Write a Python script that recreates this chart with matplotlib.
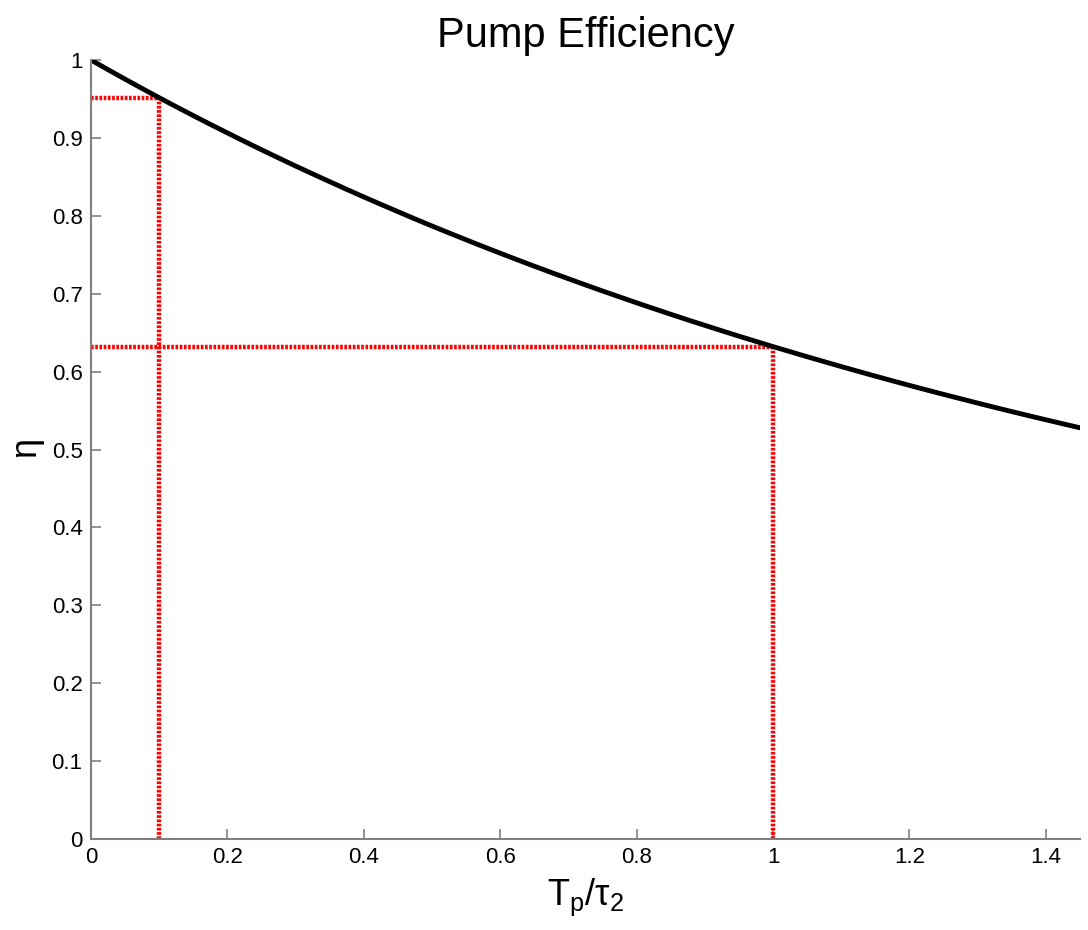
import matplotlib
matplotlib.use('Agg')
import matplotlib.pyplot as plt

# 曲線データ
ratio = [0.0, 0.025, 0.05, 0.075, 0.1, 0.125, 0.15, 0.175, 0.2, 0.225,
         0.25, 0.275, 0.3, 0.325, 0.35, 0.375, 0.4, 0.425, 0.45, 0.475,
         0.5, 0.525, 0.55, 0.575, 0.6, 0.625, 0.65, 0.675, 0.7, 0.725,
         0.75, 0.775, 0.8, 0.825, 0.85, 0.875, 0.9, 0.925, 0.95, 0.975,
         1.0, 1.025, 1.05, 1.075, 1.1, 1.125, 1.15, 1.175, 1.2, 1.225,
         1.25, 1.275, 1.3, 1.325, 1.35, 1.375, 1.4, 1.425, 1.45]
efficiency = [1.0000, 0.9876, 0.9754, 0.9634, 0.9516, 0.9400, 0.9286, 0.9174, 0.9064, 0.8955,
              0.8848, 0.8743, 0.8639, 0.8538, 0.8438, 0.8339, 0.8242, 0.8147, 0.8053, 0.7960,
              0.7869, 0.7780, 0.7692, 0.7605, 0.7520, 0.7436, 0.7353, 0.7272, 0.7192, 0.7113,
              0.7035, 0.6959, 0.6883, 0.6809, 0.6736, 0.6664, 0.6594, 0.6524, 0.6455, 0.6388,
              0.6321, 0.6256, 0.6191, 0.6128, 0.6065, 0.6003, 0.5942, 0.5882, 0.5823, 0.5765,
              0.5708, 0.5652, 0.5596, 0.5541, 0.5487, 0.5434, 0.5382, 0.5330, 0.5279]

# 参照点（赤い点線）
marker_x = [0.1, 1.0]
marker_y = [0.9516, 0.6321]

plt.rcParams['font.family'] = ['Liberation Sans', 'DejaVu Sans']

fig = plt.figure(figsize=(10.88, 9.30), dpi=100)
ax = fig.add_axes([0.0836, 0.0978, 0.909, 0.8377])

red_style = dict(color='#ff0000', linestyle=(0, (0.6, 0.35)), linewidth=3.2)
for mx, my in zip(marker_x, marker_y):
    ax.plot([mx, mx], [0, my], **red_style)
    ax.plot([0, mx], [my, my], **red_style)

ax.plot(ratio, efficiency, color='black', linewidth=3.5,
        solid_joinstyle='round', solid_capstyle='round')

ax.set_xlim(0, 1.45)
ax.set_ylim(0, 1)
ax.set_xticks([0, 0.2, 0.4, 0.6, 0.8, 1, 1.2, 1.4])
ax.set_xticklabels(['0', '0.2', '0.4', '0.6', '0.8', '1', '1.2', '1.4'])
ax.set_yticks([0, 0.1, 0.2, 0.3, 0.4, 0.5, 0.6, 0.7, 0.8, 0.9, 1])
ax.set_yticklabels(['0', '0.1', '0.2', '0.3', '0.4', '0.5', '0.6', '0.7', '0.8', '0.9', '1'])

for side in ['top', 'right']:
    ax.spines[side].set_visible(False)
for side in ['left', 'bottom']:
    ax.spines[side].set_color('#808080')
    ax.spines[side].set_linewidth(1.5)

ax.tick_params(direction='in', length=7, width=1.2, color='#808080',
               labelsize=16, labelcolor='black', pad=6)

ax.set_title('Pump Efficiency', fontsize=30, pad=9)
ax.set_xlabel(r'T$_\mathregular{p}$/$\mathregular{\tau}_\mathregular{2}$', fontsize=26, labelpad=6)
ax.set_ylabel(r'$\mathregular{\eta}$', fontsize=26, labelpad=3)

plt.savefig('out.png', dpi=100)
